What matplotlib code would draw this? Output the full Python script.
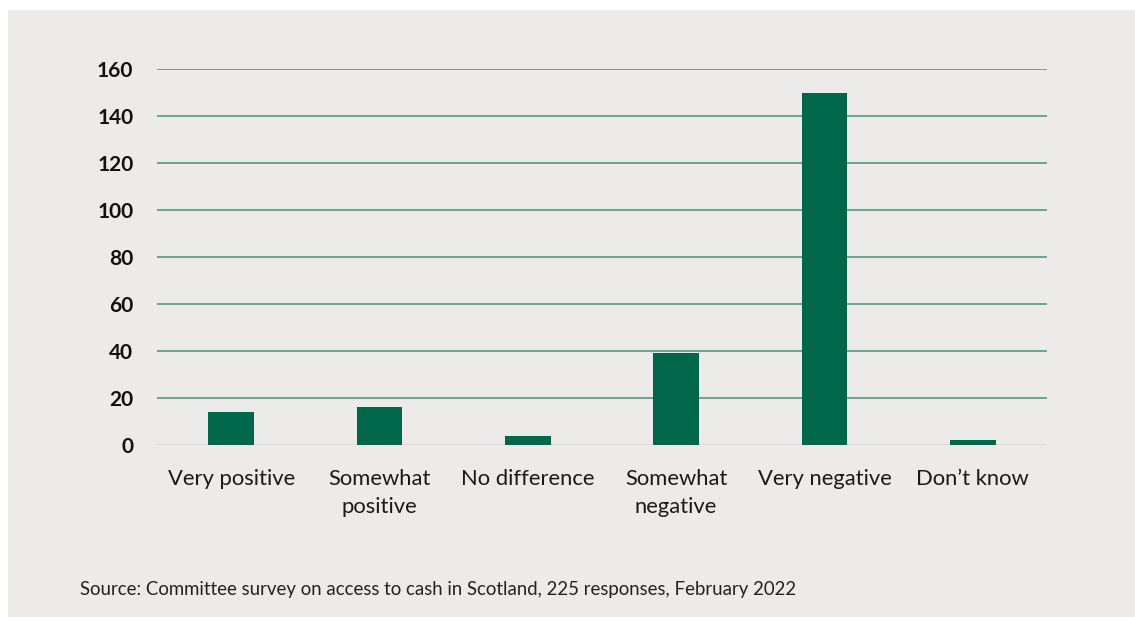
import matplotlib.pyplot as plt
from matplotlib.patches import Rectangle
import numpy as np

categories = ['Very positive', 'Somewhat\npositive', 'No difference',
              'Somewhat\nnegative', 'Very negative', 'Don\u2019t know']
responses = [14, 16, 4, 39, 150, 2]
y_ticks = [0, 20, 40, 60, 80, 100, 120, 140, 160]
source = 'Source: Committee survey on access to cash in Scotland, 225 responses, February 2022'

bg = '#ecebe9'
bar_color = '#00674a'
grid_color = '#4f9a7c'

plt.rcParams['font.family'] = ['Lato', 'DejaVu Sans']

W, H = 1135, 617
fig = plt.figure(figsize=(W / 100, H / 100), dpi=100, facecolor='white')

# grey panel behind everything
fig.patches.append(Rectangle((8 / W, 0), 1 - 8 / W, 1 - 10 / H,
                             transform=fig.transFigure, facecolor=bg,
                             edgecolor='none', zorder=0))

ax = fig.add_axes([157 / W, 1 - 445 / H, (1047 - 157) / W, (445 - 69) / H])
ax.set_zorder(2)
ax.set_facecolor('none')

x = np.arange(len(categories))
ax.bar(x, responses, width=0.31, color=bar_color, zorder=3)

ax.set_xlim(-0.5, len(categories) - 0.5)
ax.set_ylim(0, 160)
ax.set_yticks(y_ticks)
ax.set_yticklabels([str(v) for v in y_ticks], fontsize=15, fontweight='bold',
                   color='#111111')
ax.set_xticks(x)
ax.set_xticklabels(categories, fontsize=15.8, color='#1a1a1a', linespacing=1.5)

for v in y_ticks[1:]:
    ax.axhline(v, color=grid_color, linewidth=1.2, zorder=1)
ax.axhline(0, color='#d6d6d6', linewidth=1.2, zorder=2)

for s in ax.spines.values():
    s.set_visible(False)
ax.tick_params(axis='y', length=0, pad=17)
ax.tick_params(axis='x', length=0, pad=17)

fig.text(80 / W, 1 - 590 / H, source, fontsize=13.4, color='#222222',
         va='center', ha='left', zorder=3)

fig.savefig('out.png', dpi=100, facecolor='white')
